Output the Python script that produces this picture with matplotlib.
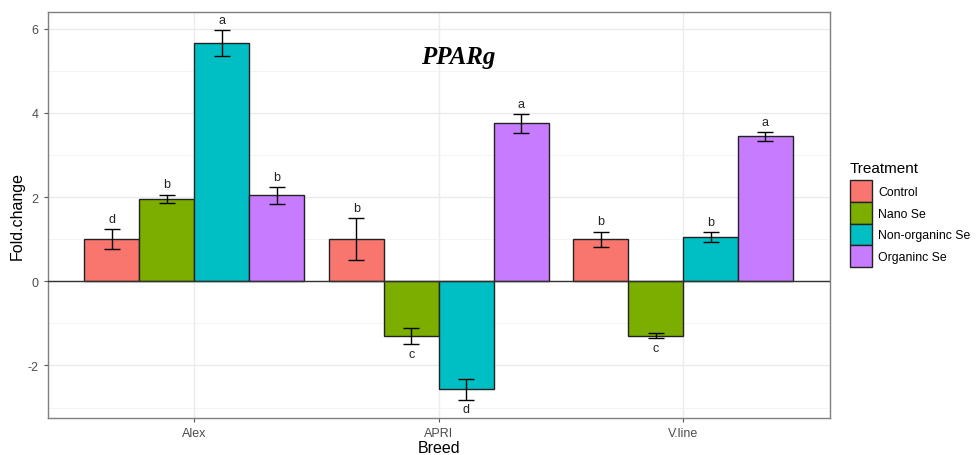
import numpy as np
import matplotlib.pyplot as plt
from matplotlib.patches import Patch
from matplotlib.ticker import MultipleLocator

plt.rcParams["font.family"] = ["Liberation Sans", "DejaVu Sans"]
plt.rcParams["axes.unicode_minus"] = False

breeds = ["Alex", "APRI", "V.line"]
treatments = ["Control", "Nano Se", "Non-organinc Se", "Organinc Se"]
colors = ["#F8766D", "#7CAE00", "#00BFC4", "#C77CFF"]

# fold change per treatment, one value per breed
control = [1.00, 1.00, 1.00]
nano = [1.96, -1.30, -1.30]
non_organic = [5.66, -2.57, 1.05]
organic = [2.04, 3.75, 3.44]

control_err = [0.23, 0.50, 0.18]
nano_err = [0.10, 0.20, 0.06]
non_organic_err = [0.30, 0.25, 0.12]
organic_err = [0.20, 0.22, 0.10]

control_lab = ["d", "b", "b"]
nano_lab = ["b", "c", "c"]
non_organic_lab = ["a", "d", "b"]
organic_lab = ["b", "a", "a"]

values = [control, nano, non_organic, organic]
errors = [control_err, nano_err, non_organic_err, organic_err]
letters = [control_lab, nano_lab, non_organic_lab, organic_lab]

fig = plt.figure(figsize=(9.76, 4.56), dpi=100)
ax = fig.add_axes([0.049, 0.081, 0.801, 0.890])

x = np.arange(1, len(breeds) + 1)
w = 0.225
for i in range(4):
    pos = x + (i - 1.5) * w
    ax.bar(pos, values[i], width=w, color=colors[i], edgecolor="#222222",
           linewidth=1.0, zorder=3)
    ax.errorbar(pos, values[i], yerr=errors[i], fmt="none", ecolor="black",
                elinewidth=1.0, capsize=6, capthick=1.0, zorder=4)
    for p, v, e, lab in zip(pos, values[i], errors[i], letters[i]):
        if v >= 0:
            ax.text(p, v + e + 0.1, lab, ha="center", va="bottom",
                    fontsize=9, color="#222222")
        else:
            ax.text(p, v - e - 0.08, lab, ha="center", va="top",
                    fontsize=9, color="#222222")

ax.axhline(0, color="#333333", linewidth=1.0, zorder=3)

ax.set_xlim(0.4, 3.6)
ax.set_ylim(-3.25, 6.39)
ax.set_xticks(x)
ax.set_xticklabels(breeds)
ax.yaxis.set_major_locator(MultipleLocator(2))
ax.yaxis.set_minor_locator(MultipleLocator(1))
ax.grid(which="major", color="#EBEBEB", linewidth=1.0, zorder=0)
ax.grid(which="minor", axis="y", color="#F2F2F2", linewidth=0.6, zorder=0)
ax.set_axisbelow(True)
ax.tick_params(which="major", colors="#555555", labelsize=9, length=3,
               labelcolor="#4D4D4D")
ax.tick_params(which="minor", length=0)
for s in ax.spines.values():
    s.set_color("#7F7F7F")
    s.set_linewidth(1.0)

ax.set_xlabel("Breed", fontsize=11.5, labelpad=1)
ax.set_ylabel("Fold.change", fontsize=11.5, labelpad=2)

ax.text(2.08, 5.34, "PPARg", ha="center", va="center", fontsize=18,
        family="Liberation Serif", fontweight="bold", fontstyle="italic")

handles = [Patch(facecolor=c, edgecolor="#222222", linewidth=1.0) for c in colors]
leg = fig.legend(handles, treatments, title="Treatment", loc="upper left",
                 bbox_to_anchor=(0.866, 0.656), frameon=False, fontsize=8.8,
                 title_fontsize=11, handlelength=1.8, handleheight=2.35,
                 labelspacing=0.0, handletextpad=0.5, borderaxespad=0)
leg._legend_box.align = "left"
leg._legend_box.sep = 4

fig.savefig("out.png", dpi=100)
